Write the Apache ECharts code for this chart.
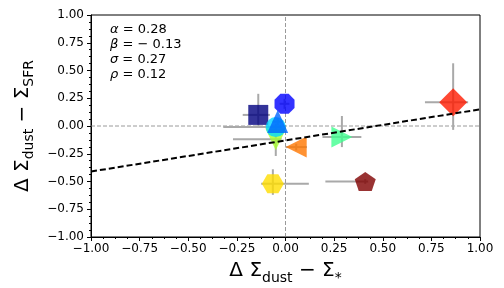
<!DOCTYPE html>
<html><head><meta charset="utf-8">
<script src="https://cdn.jsdelivr.net/npm/echarts@6/dist/echarts.min.js"></script>
<style>html,body{margin:0;padding:0;background:#fff}#c{width:504px;height:288px}</style>
</head><body><div id="c"></div>
<script>
// ---- data ----
const xVals   = [-0.14, -0.005, -0.04, -0.05, -0.05, 0.29, -0.065, 0.055, 0.862, 0.41];
const yVals   = [ 0.10,  0.20,  0.04, -0.01, -0.12, -0.10, -0.52, -0.19, 0.215, -0.50];
const xErrLo  = [ 0.08,  0.025, 0.03,  0.27,  0.22,  0.10,  0.06,  0.055, 0.145, 0.205];
const xErrHi  = [ 0.06,  0.025, 0.03,  0.03,  0.03,  0.10,  0.185, 0.055, 0.077, 0.015];
const yErrLo  = [ 0.10,  0.045, 0.03,  0.03,  0.15,  0.09,  0.10,  0.03,  0.25,  0.02];
const yErrHi  = [ 0.19,  0.045, 0.03,  0.03,  0.03,  0.19,  0.13,  0.03,  0.35,  0.02];
const colors  = ['#000080','#0000ff','#0066ff','#00d8ff','#a8ff30','#40ff90','#ffdd00','#ff7700','#ff1a00','#800000'];
const fitAlpha = 0.28, fitBeta = -0.13, fitSigma = 0.27, fitRho = 0.12;
const xTicks = [-1.00,-0.75,-0.50,-0.25,0.00,0.25,0.50,0.75,1.00];
const yTicks = [-1.00,-0.75,-0.50,-0.25,0.00,0.25,0.50,0.75,1.00];
const fitX = [-1, 1];

function poly(n, rot){
  let d='';
  for(let i=0;i<n;i++){const a=rot+2*Math.PI*i/n;d+=(i?'L':'M')+Math.sin(a).toFixed(4)+' '+(-Math.cos(a)).toFixed(4);}
  return 'path://'+d+'Z';
}
// marker shapes / sizes (style)
const shapes = ['rect', poly(8,Math.PI/8), 'triangle', 'circle', 'triangle', 'triangle', poly(6,Math.PI/2), 'triangle', 'diamond', poly(5,0)];
const rots   = [0,0,0,0,180,-90,0,90,0,0];
const sizes  = [[20,20],[20,20],[21,23],[20,20],[21,22],[21,21],[22,19],[21,21],[28,28],[21,19]];
const drawOrder = [0,1,4,3,2,5,6,7,8,9];

const fmt = v => v.toFixed(2).replace('-', '\u2212');
const fitLine = fitX.map(x => [x, fitAlpha*x + fitBeta]);

const chart = echarts.init(document.getElementById('c'));
const axisCommon = {
  min:-1, max:1, interval:0.25,
  axisLine:{show:true, onZero:false, lineStyle:{color:'#000', width:1}},
  axisTick:{show:true, length:4, lineStyle:{color:'#000'}},
  minorTick:{show:true, splitNumber:4, length:2, lineStyle:{color:'#000'}},
  splitLine:{show:false},
  axisLabel:{color:'#000', fontSize:12, fontFamily:'DejaVu Sans', formatter: fmt}
};
const nameRich = {m:{fontSize:20, fontFamily:'DejaVu Sans', color:'#000', lineHeight:24, verticalAlign:'top'}, s:{fontSize:14, fontFamily:'DejaVu Sans', color:'#000', lineHeight:14, verticalAlign:'bottom', padding:[11,0,0,0]}};
chart.setOption({
  animation:false,
  grid:{left:91, right:24, top:15, bottom:51, containLabel:false, outerBoundsMode:'none', show:true, borderColor:'#000', borderWidth:1, backgroundColor:'transparent'},
  xAxis: Object.assign({}, axisCommon, {type:'value', axisLabel:Object.assign({}, axisCommon.axisLabel, {margin:6}),
    name:'{m|\u0394 \u03a3}{s|dust}{m| \u2212 \u03a3}{s|*}', nameLocation:'middle', nameGap:23,
    nameTextStyle:{rich:nameRich}}),
  yAxis: Object.assign({}, axisCommon, {type:'value', axisLabel:Object.assign({}, axisCommon.axisLabel, {margin:7}),
    name:'{m|\u0394 \u03a3}{s|dust}{m| \u2212 \u03a3}{s|SFR}', nameLocation:'middle', nameGap:50, nameRotate:90,
    nameTextStyle:{rich:nameRich}}),
  graphic:[{
    type:'text', left:110, top:23, z:100,
    style:{
      text:'{i|\u03b1}{t| = 0.28}\n{i|\u03b2}{t| = \u2212 0.13}\n{i|\u03c3}{t| = 0.27}\n{i|\u03c1}{t| = 0.12}',
      rich:{i:{fontSize:13, fontStyle:'italic', fontFamily:'DejaVu Sans', fill:'#000', lineHeight:15},
            t:{fontSize:13, fontFamily:'DejaVu Sans', fill:'#000', lineHeight:15}}
    }
  }],
  series:[
    {type:'line', data:[[0,-1],[0,1]], symbol:'none', lineStyle:{color:'#808080', width:0.8, type:[4,2]}, z:1, silent:true},
    {type:'line', data:[[-1,0],[1,0]], symbol:'none', lineStyle:{color:'#808080', width:0.8, type:[4,2]}, z:1, silent:true},
    {type:'custom', z:2, silent:true,
     data: xVals.map((x,i)=>[x, yVals[i], xErrLo[i], xErrHi[i], yErrLo[i], yErrHi[i]]),
     encode:{x:0, y:1},
     renderItem:(params, api)=>{
       const x=api.value(0), y=api.value(1);
       const a=api.coord([x-api.value(2), y]), b=api.coord([x+api.value(3), y]);
       const c=api.coord([x, y-api.value(4)]), d=api.coord([x, y+api.value(5)]);
       const st={stroke:'#a9a9a9', lineWidth:2};
       return {type:'group', children:[
         {type:'line', shape:{x1:a[0],y1:a[1],x2:b[0],y2:b[1]}, style:st},
         {type:'line', shape:{x1:c[0],y1:c[1],x2:d[0],y2:d[1]}, style:st}]};
     }},
    {type:'scatter', z:3, silent:true,
     data: drawOrder.map(i=>({value:[xVals[i], yVals[i]], symbol:shapes[i], symbolRotate:rots[i], symbolSize:sizes[i],
       itemStyle:{color:colors[i], opacity:0.8}}))},
    {type:'line', z:4, data:fitLine, symbol:'none', lineStyle:{color:'#000', width:2, type:[6,3]}, silent:true}
  ]
});
</script></body></html>
